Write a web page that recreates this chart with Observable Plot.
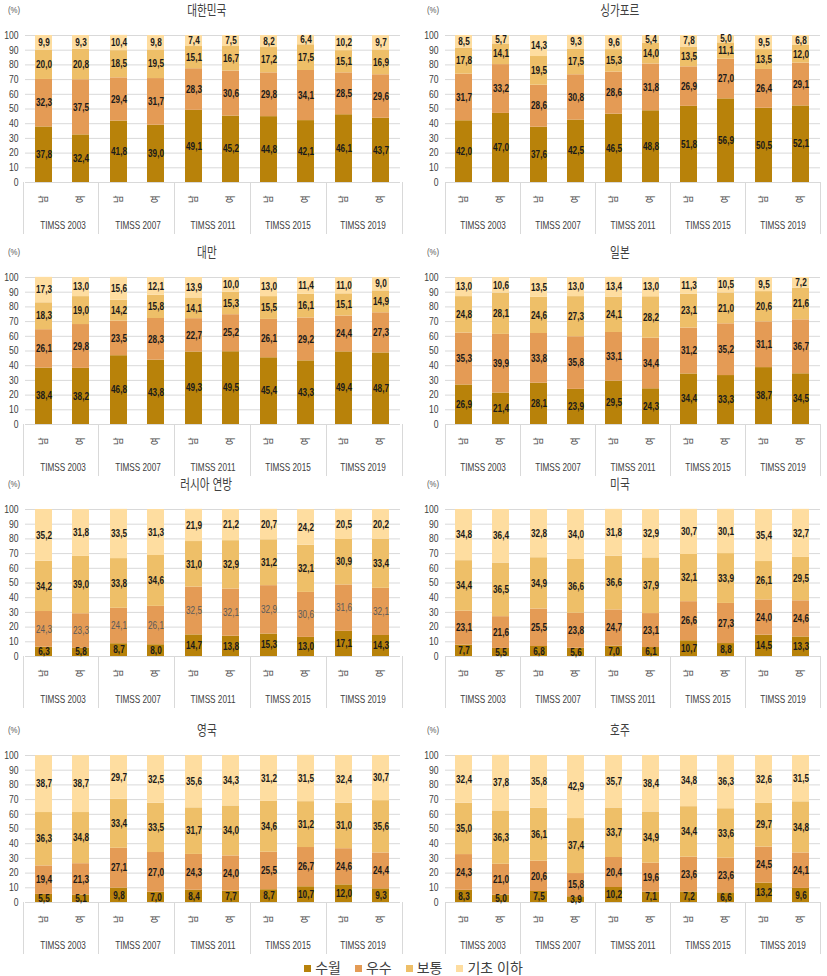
<!DOCTYPE html>
<html lang="ko"><head><meta charset="utf-8">
<script src="https://cdn.jsdelivr.net/npm/d3@7"></script>
<script src="https://cdn.jsdelivr.net/npm/@observablehq/plot@0.6"></script>
<style>
html,body{margin:0;padding:0;background:#fff;}
#root{position:relative;width:827px;height:976px;overflow:hidden;font-family:"Liberation Sans","Noto Sans CJK KR",sans-serif;}
.panel{position:absolute;}
.panel svg{position:absolute;left:0;top:0;overflow:visible;}
.ptitle{position:absolute;left:0;right:0;text-align:center;font-family:"Noto Sans CJK KR",sans-serif;font-size:14px;color:#404040;line-height:16px;}
.ptitle span{display:inline-block;transform:scaleX(0.76);}
.unit{position:absolute;font-size:9.5px;color:#595959;line-height:10px;}
.unit span{display:inline-block;transform:scaleX(0.82);transform-origin:left center;}
#legend{position:absolute;left:0;width:827px;top:959px;height:17px;display:flex;justify-content:center;align-items:center;font-family:"Noto Sans CJK KR",sans-serif;font-size:14px;color:#404040;}
#legend .item{display:flex;align-items:center;margin:0 7px;height:17px;}
#legend .item span{line-height:17px;}
#legend .sw{width:7px;height:7px;margin-right:4px;margin-top:2px;}
</style>
</head><body>
<div id="root"></div>
<script>
// ---- data ----
const years = ["TIMSS 2003","TIMSS 2007","TIMSS 2011","TIMSS 2015","TIMSS 2019"];
const genders = ["남","여"];
const levels = ["수월","우수","보통","기초 이하"];
const levelColors = ["#b8820a","#e49b55","#eebf68","#fedda0"];
const countryNames = ["대한민국","싱가포르","대만","일본","러시아 연방","미국","영국","호주"];

// each country: [수월, 우수, 보통, 기초 이하], values in order 2003남, 2003여, 2007남, ...
const kor = [
  [37.8,32.4,41.8,39.0,49.1,45.2,44.8,42.1,46.1,43.7],
  [32.3,37.5,29.4,31.7,28.3,30.6,29.8,34.1,28.5,29.6],
  [20.0,20.8,18.5,19.5,15.1,16.7,17.2,17.5,15.1,16.9],
  [9.9,9.3,10.4,9.8,7.4,7.5,8.2,6.4,10.2,9.7]
];
const sgp = [
  [42.0,47.0,37.6,42.5,46.5,48.8,51.8,56.9,50.5,52.1],
  [31.7,33.2,28.6,30.8,28.6,31.8,26.9,27.0,26.4,29.1],
  [17.8,14.1,19.5,17.5,15.3,14.0,13.5,11.1,13.5,12.0],
  [8.5,5.7,14.3,9.3,9.6,5.4,7.8,5.0,9.5,6.8]
];
const twn = [
  [38.4,38.2,46.8,43.8,49.3,49.5,45.4,43.3,49.4,48.7],
  [26.1,29.8,23.5,28.3,22.7,25.2,26.1,29.2,24.4,27.3],
  [18.3,19.0,14.2,15.8,14.1,15.3,15.5,16.1,15.1,14.9],
  [17.3,13.0,15.6,12.1,13.9,10.0,13.0,11.4,11.0,9.0]
];
const jpn = [
  [26.9,21.4,28.1,23.9,29.5,24.3,34.4,33.3,38.7,34.5],
  [35.3,39.9,33.8,35.8,33.1,34.4,31.2,35.2,31.1,36.7],
  [24.8,28.1,24.6,27.3,24.1,28.2,23.1,21.0,20.6,21.6],
  [13.0,10.6,13.5,13.0,13.4,13.0,11.3,10.5,9.5,7.2]
];
const rus = [
  [6.3,5.8,8.7,8.0,14.7,13.8,15.3,13.0,17.1,14.3],
  [24.3,23.3,24.1,26.1,32.5,32.1,32.9,30.6,31.6,32.1],
  [34.2,39.0,33.8,34.6,31.0,32.9,31.2,32.1,30.9,33.4],
  [35.2,31.8,33.5,31.3,21.9,21.2,20.7,24.2,20.5,20.2]
];
const usa = [
  [7.7,5.5,6.8,5.6,7.0,6.1,10.7,8.8,14.5,13.3],
  [23.1,21.6,25.5,23.8,24.7,23.1,26.6,27.3,24.0,24.6],
  [34.4,36.5,34.9,36.6,36.6,37.9,32.1,33.9,26.1,29.5],
  [34.8,36.4,32.8,34.0,31.8,32.9,30.7,30.1,35.4,32.7]
];
const gbr = [
  [5.5,5.1,9.8,7.0,8.4,7.7,8.7,10.7,12.0,9.3],
  [19.4,21.3,27.1,27.0,24.3,24.0,25.5,26.7,24.6,24.4],
  [36.3,34.8,33.4,33.5,31.7,34.0,34.6,31.2,31.0,35.6],
  [38.7,38.7,29.7,32.5,35.6,34.3,31.2,31.5,32.4,30.7]
];
const aus = [
  [8.3,5.0,7.5,3.9,10.2,7.1,7.2,6.6,13.2,9.6],
  [24.3,21.0,20.6,15.8,20.4,19.6,23.6,23.6,24.5,24.1],
  [35.0,36.3,36.1,37.4,33.7,34.9,34.4,33.6,29.7,34.8],
  [32.4,37.8,35.8,42.9,35.7,38.4,34.8,36.3,32.6,31.5]
];
const countrySeries = [kor, sgp, twn, jpn, rus, usa, gbr, aus];
const yTicks = d3.range(0, 101, 10);

// ---- layout ----
const rowTop = [0, 242, 474, 720];
const rowH = [242, 232, 246, 240];
const cols = [{left:0, w:413, ml:23, mr:11, unitX:8}, {left:413, w:414, ml:32, mr:7, unitX:14}];
const plotTop = 35, plotBottom = 182;
const narrow = 0.82; // horizontal squeeze to mimic a narrow face

const fmt = v => d3.format(".1f")(v).replace(".", ",");

function rowsFor(series){
  const out = [];
  levels.forEach((lv, li) => {
    series[li].forEach((v, i) => {
      out.push({year: years[Math.floor(i/2)], gender: genders[i % 2], level: lv, value: v});
    });
  });
  return out;
}

const root = document.getElementById("root");
countryNames.forEach((name, ci) => {
  const r = Math.floor(ci / 2), c = cols[ci % 2];
  const H = rowH[r];
  const rows = rowsFor(countrySeries[ci]);
  const lightMid = ci === 4; // 러시아 연방: 우수 labels lighter
  const isLight = d => lightMid && d.level === "우수";

  const panel = document.createElement("div");
  panel.className = "panel";
  panel.style.left = c.left + "px";
  panel.style.top = rowTop[r] + "px";
  panel.style.width = c.w + "px";
  panel.style.height = H + "px";

  const chart = Plot.plot({
    width: c.w, height: H,
    marginLeft: c.ml, marginRight: c.mr, marginTop: plotTop, marginBottom: H - plotBottom,
    style: {fontFamily: "'Liberation Sans','Noto Sans CJK KR',sans-serif", fontSize: "10px", color: "#404040", background: "transparent", overflow: "visible"},
    fx: {domain: years, padding: 0, axis: null, label: null},
    x: {domain: genders, paddingInner: 0.53, paddingOuter: 0.26, axis: null, label: null},
    y: {domain: [0, 100], axis: null, label: null},
    color: {domain: levels, range: levelColors},
    marks: [
      Plot.gridY(yTicks, {stroke: "#d9d9d9", strokeOpacity: 1}),
      Plot.barY(rows, {fx: "year", x: "gender", y: "value", fill: "level"}),
      Plot.text(rows, Plot.stackY({fx: "year", x: "gender", y: "value", z: "level",
        text: d => isLight(d) ? null : fmt(d.value),
        fill: "#1a1a1a", fontWeight: "bold", fontSize: 10})),
      Plot.text(rows, Plot.stackY({fx: "year", x: "gender", y: "value", z: "level",
        text: d => isLight(d) ? fmt(d.value) : null,
        fill: "#5a5a5a", fontSize: 10})),
      Plot.axisY(yTicks, {tickSize: 0, tickPadding: 7, label: null, fontSize: 10.5, fill: "#404040"}),
      Plot.axisX({tickSize: 0, tickRotate: -90, tickPadding: 13, label: null, fontSize: 10, fill: "#404040"}),
      Plot.axisFx({anchor: "bottom", tickSize: 0, tickPadding: 39, label: null, fontSize: 10, fill: "#404040"})
    ]
  });

  // squeeze all svg texts horizontally around their own anchor
  d3.select(chart).selectAll("text").each(function() {
    const x = +this.getAttribute("x") || 0, y = +this.getAttribute("y") || 0;
    const t = this.getAttribute("transform") || "";
    this.setAttribute("transform", `${t} translate(${x},${y}) scale(${narrow},1) translate(${-x},${-y})`);
  });

  // group separators below the axis, from the facet scale
  const fxs = chart.scale("fx"), ys = chart.scale("y");
  const band = d3.scaleBand().domain(fxs.domain).range(fxs.range).paddingInner(0).paddingOuter(0);
  const y0 = d3.scaleLinear().domain(ys.domain).range(ys.range)(0);
  const bounds = years.map(y => band(y)).concat([band(years[years.length-1]) + band.bandwidth()]);
  d3.select(chart).append("g")
    .selectAll("line").data(bounds).join("line")
    .attr("x1", d => d).attr("x2", d => d)
    .attr("y1", y0).attr("y2", y0 + 52)
    .attr("stroke", "#d9d9d9").attr("stroke-width", 1)
    .attr("shape-rendering", "crispEdges");

  panel.appendChild(chart);

  const t = document.createElement("div");
  t.className = "ptitle";
  t.style.top = "1px";
  t.innerHTML = "<span></span>";
  t.firstChild.textContent = name;
  panel.appendChild(t);

  const u = document.createElement("div");
  u.className = "unit";
  u.style.left = c.unitX + "px";
  u.style.top = "5px";
  u.innerHTML = "<span></span>";
  u.firstChild.textContent = "(%)";
  panel.appendChild(u);

  root.appendChild(panel);
});

// legend
const legend = d3.select(root).append("div").attr("id", "legend");
const items = legend.selectAll(".item").data(levels).join("div").attr("class", "item");
items.append("div").attr("class", "sw").style("background", (d, i) => levelColors[i]);
items.append("span").text(d => d);
</script>
</body></html>
